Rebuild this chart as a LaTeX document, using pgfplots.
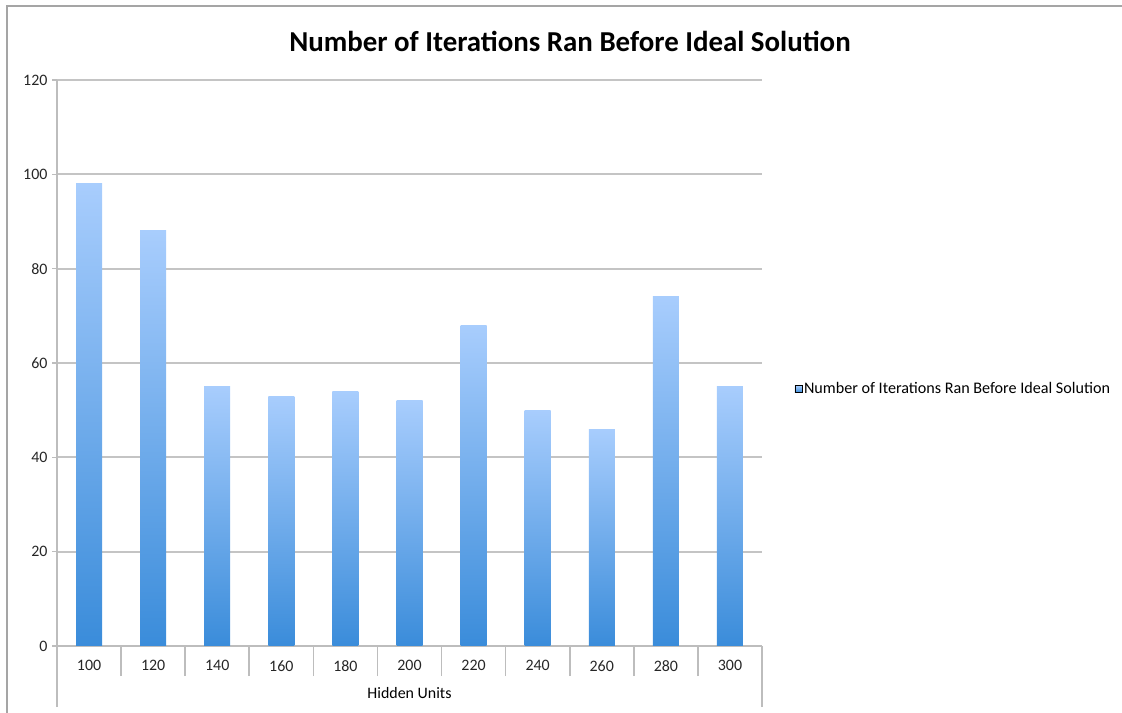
\documentclass[border=0pt]{standalone}
\usepackage{pgfplots}
\pgfplotsset{compat=1.18}
\usepackage{fontspec}
\setmainfont{Carlito}
\definecolor{bartop}{HTML}{A8CDFD}
\definecolor{barbot}{HTML}{3A8CDA}
\definecolor{gridc}{HTML}{C4C4C4}
\definecolor{axc}{HTML}{BDBDBD}
\definecolor{framec}{HTML}{A5A5A5}
\pgfplotsset{mybar/.style={ybar, bar width=26bp, bar shift=0pt, draw=none, top color=bartop, bottom color=barbot, forget plot}}
\begin{document}
\begin{tikzpicture}
\useasboundingbox (0,0) rectangle (1122bp,713bp);
\draw[framec, line width=2.2bp] (7bp,-2bp) -- (7bp,707bp) -- (1124bp,707bp);
\node[font=\fontsize{29}{32}\selectfont\bfseries, anchor=base, inner sep=0pt] at (570bp,661bp) {Number of Iterations Ran Before Ideal Solution};
\begin{axis}[
  at={(57bp,67bp)}, anchor=south west,
  width=705bp, height=566bp, scale only axis,
  xmin=-0.5, xmax=10.5, ymin=0, ymax=120,
  ytick={0,20,...,120},
  xtick={0,...,10},
  xticklabels={100,120,140,160,180,200,220,240,260,280,300},
  minor xtick={0.5,1.5,...,9.5},
  extra x ticks={-0.5,10.5},
  extra x tick labels={},
  extra x tick style={major tick length=61bp, major x tick style={draw=axc, line width=1.6bp}},
  major x tick style={draw=none},
  minor x tick style={draw=axc, line width=1.6bp},
  minor tick length=30bp,
  major tick length=5bp,
  tick align=outside,
  ytick style={draw=axc, line width=1.6bp},
  axis x line*=bottom, axis y line*=left,
  axis line style={draw=axc, line width=1.6bp, -},
  ymajorgrids, grid style={draw=gridc, line width=1.8bp},
  /pgf/number format/assume math mode=true,
  tick label style={font=\fontsize{16}{18}\selectfont, text=black!85},
  xticklabel style={yshift=-6bp},
  yticklabel style={xshift=-1bp},
  xlabel={Hidden Units},
  xlabel style={at={(axis description cs:0.5,0)}, anchor=center, yshift=-47bp, font=\fontsize{16}{18}\selectfont},
  legend style={at={(1.046,0.454)}, anchor=west, draw=none, fill=none, font=\fontsize{16.2}{18}\selectfont, inner sep=0pt},
  clip=false,
]
\addplot[mybar] coordinates {(0,98)};
\addplot[mybar] coordinates {(1,88)};
\addplot[mybar] coordinates {(2,55)};
\addplot[mybar] coordinates {(3,53)};
\addplot[mybar] coordinates {(4,54)};
\addplot[mybar] coordinates {(5,52)};
\addplot[mybar] coordinates {(6,68)};
\addplot[mybar] coordinates {(7,50)};
\addplot[mybar] coordinates {(8,46)};
\addplot[mybar] coordinates {(9,74)};
\addplot[mybar] coordinates {(10,55)};
\addlegendimage{legend image code/.code={\fill[top color=bartop, bottom color=barbot] (0bp,-3.5bp) rectangle (7bp,3.5bp);}}
\addlegendentry{Number of Iterations Ran Before Ideal Solution}
\end{axis}
\end{tikzpicture}
\end{document}
